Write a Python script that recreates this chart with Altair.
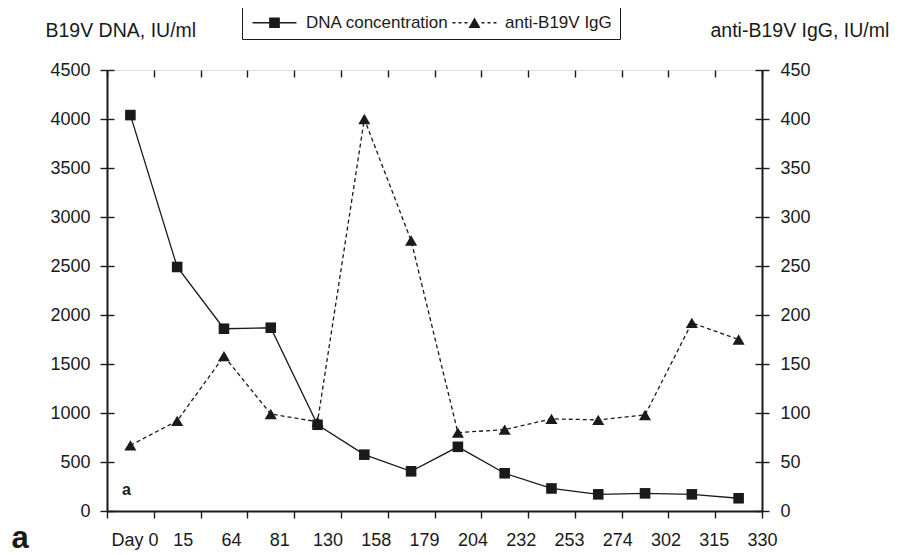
import altair as alt
import pandas as pd

# ---- data ----
days = ["Day 0", "15", "64", "81", "130", "158", "179", "204", "232", "253", "274", "302", "315", "330"]
dna = [4040, 2490, 1860, 1870, 880, 575, 405, 655, 385, 230, 170, 180, 170, 130]
igg = [67, 92, 158, 99, 91, 400, 276, 80, 83, 94, 93, 98, 192, 175]
series = ["DNA concentration", "anti-B19V IgG"]
left_ticks = [0, 500, 1000, 1500, 2000, 2500, 3000, 3500, 4000, 4500]
right_ticks = [0, 50, 100, 150, 200, 250, 300, 350, 400, 450]
left_title = "B19V DNA, IU/ml"
right_title = "anti-B19V IgG, IU/ml"
panel_label = ["a"]

df = pd.DataFrame({"day": days, "dna": dna, "igg": igg})
leg_df = pd.DataFrame({"series": series})
lab_df = pd.DataFrame({"t": panel_label})

W, H = 655, 441
INK = "#1a1a1a"
FONT = "Liberation Sans"

common_axis = dict(
    labelFontSize=18, labelFont=FONT, labelColor=INK,
    tickSize=7, tickWidth=1.4, tickColor=INK,
    domainWidth=2, domainColor=INK,
    grid=True, gridDash=[7, 3000], gridColor=INK, gridWidth=1.4, gridOpacity=1,
)

x_enc = alt.X(
    "day:N", sort=days,
    scale=alt.Scale(type="band", paddingInner=0, paddingOuter=0),
    axis=alt.Axis(title=None, labelAngle=0, tickBand="extent", labelPadding=13,
                  labelOffset={"expr": "4 + 19.5*datum.index"}, **common_axis),
)

y_dna = alt.Y(
    "dna:Q", scale=alt.Scale(domain=[0, 4500], nice=False, zero=True),
    axis=alt.Axis(orient="left", values=left_ticks, format="d", labelPadding=10,
                  title=left_title, titleAngle=0, titleAlign="left", titleBaseline="alphabetic",
                  titleX=-62, titleY=-34, titleFontSize=19.5, titleFontWeight="normal",
                  titleFont=FONT, titleColor=INK, **common_axis),
)
y_igg = alt.Y(
    "igg:Q", scale=alt.Scale(domain=[0, 450], nice=False, zero=True),
    axis=alt.Axis(orient="right", values=right_ticks, format="d", labelPadding=11,
                  title=right_title, titleAngle=0, titleAlign="left", titleBaseline="alphabetic",
                  titleX=-52, titleY=-34, titleFontSize=19.5, titleFontWeight="normal",
                  titleFont=FONT, titleColor=INK, **common_axis),
)

base = alt.Chart(df)
dna_layer = alt.layer(
    base.mark_line(color=INK, strokeWidth=1.3).encode(x=x_enc, y=y_dna),
    base.mark_point(shape="square", filled=True, color=INK, size=112, opacity=1).encode(x=x_enc, y=y_dna),
)
igg_layer = alt.layer(
    base.mark_line(color=INK, strokeWidth=1.3, strokeDash=[4, 3]).encode(x=x_enc, y=y_igg),
    base.mark_point(shape="triangle-up", filled=True, color=INK, size=145, opacity=1).encode(x=x_enc, y=y_igg),
)

# legend symbols drawn as filled paths: line stub (solid / dashes) + marker; units of 5 px (symbolSize 100)
shapes = [
    "M-1.2,-0.13H7.6V0.13H-1.2Z"
    "M2.13,-1.07H4.27V1.07H2.13Z",
    "M-1,-0.13H-0.4V0.13H-1Z"
    "M0.2,-0.13H0.8V0.13H0.2Z"
    "M1.4,-0.13H2V0.13H1.4Z"
    "M4.8,-0.13H5.4V0.13H4.8Z"
    "M6,-0.13H6.6V0.13H6Z"
    "M7.2,-0.13H7.8V0.13H7.2Z"
    "M3.4,-1.04L4.6,1.04L2.2,1.04Z",
]
leg = alt.Legend(
    title=None, orient="none", legendX=135, legendY=-64, direction="horizontal",
    symbolSize=100, symbolFillColor=INK, symbolStrokeColor=INK, symbolStrokeWidth=0, symbolOpacity=1,
    labelFontSize=17, labelFont=FONT, labelColor=INK, labelOffset=39, columnPadding=0,
    padding=8, strokeColor=INK, fillColor="white",
)
legend_layer = alt.Chart(leg_df).transform_filter("false").mark_point(
    filled=True, fill=INK, strokeWidth=0, opacity=1
).encode(
    shape=alt.Shape("series:N", sort=series, scale=alt.Scale(domain=series, range=shapes), legend=leg),
)

small_a = alt.Chart(lab_df).mark_text(
    font=FONT, fontWeight="bold", fontSize=16, color=INK, align="center", baseline="alphabetic"
).encode(text="t:N", x=alt.value(19.5), y=alt.value(425))
big_a = alt.Chart(lab_df).mark_text(
    font=FONT, fontWeight="bold", fontSize=31, color=INK, align="center", baseline="alphabetic"
).encode(text="t:N", x=alt.value(-87), y=alt.value(478))

chart = alt.layer(dna_layer, igg_layer, legend_layer, small_a, big_a).resolve_scale(
    y="independent"
).properties(
    width=W, height=H,
    padding={"left": 99, "top": 62, "right": 136, "bottom": 44},
    autosize=alt.AutoSizeParams(type="none"),
).configure_view(stroke=None).configure_legend(strokeWidth=1).configure(background="white")

chart.save("out.html", embed_options={"renderer": "svg", "actions": False})
